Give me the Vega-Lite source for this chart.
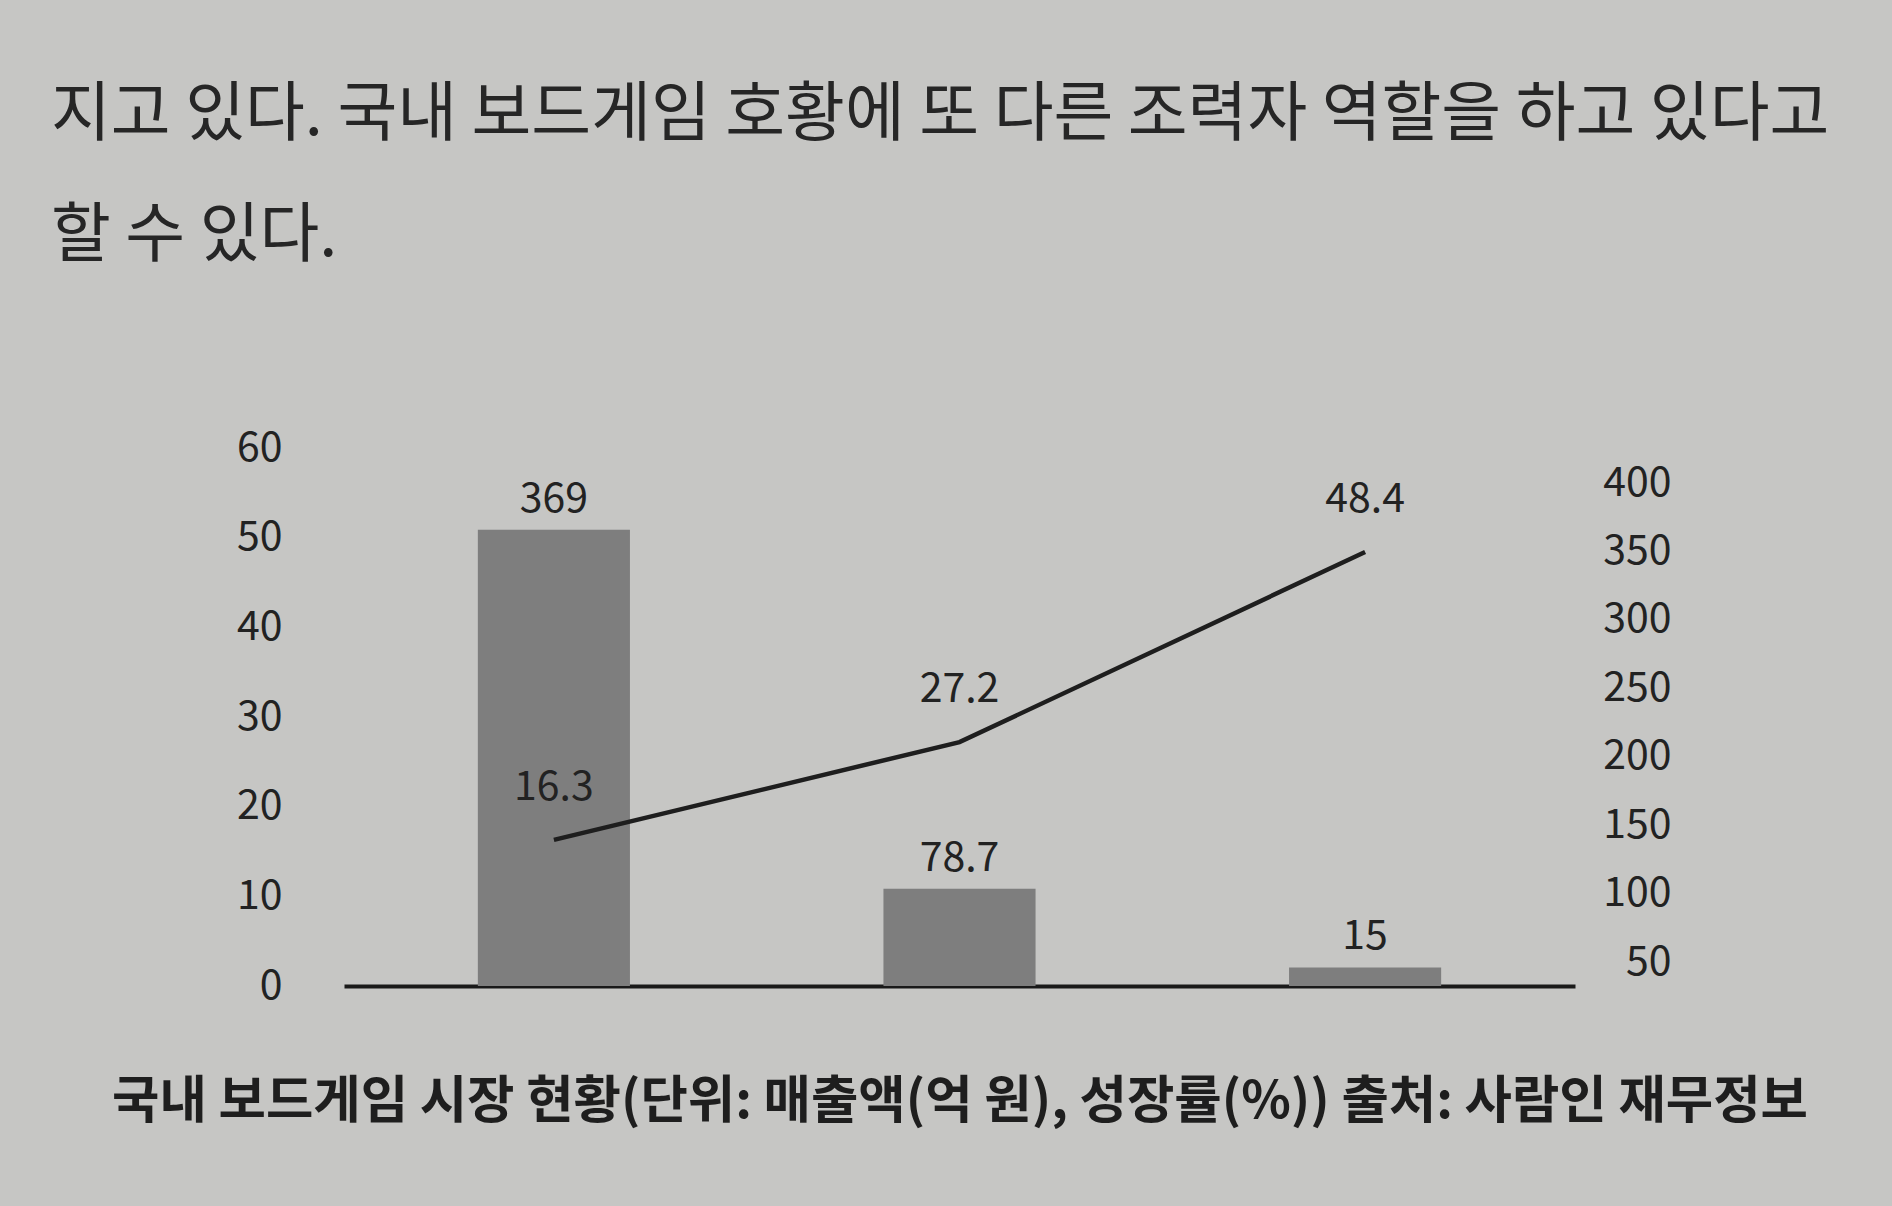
{
  "$schema": "https://vega.github.io/schema/vega-lite/v6.json",
  "width": 1231,
  "height": 538,
  "autosize": {"type": "none"},
  "padding": {"left": 344, "top": 448, "right": 317, "bottom": 220},
  "background": "#c6c6c4",
  "config": {
    "view": {"stroke": null},
    "font": "Noto Sans CJK KR",
    "axis": {"grid": false, "labelFont": "Noto Sans CJK KR", "titleFont": "Noto Sans CJK KR"}
  },
  "title": {
    "text": ["지고 있다. 국내 보드게임 호황에 또 다른 조력자 역할을 하고 있다고", "할 수 있다."],
    "anchor": "start",
    "frame": "group",
    "dx": -293,
    "offset": 106,
    "fontSize": 65,
    "fontWeight": "normal",
    "lineHeight": 121,
    "baseline": "alphabetic",
    "color": "#262626",
    "font": "Noto Sans CJK KR"
  },
  "data": {
    "values": [
      {"순서": "1", "매출액": 369, "성장률": 16.3},
      {"순서": "2", "매출액": 78.7, "성장률": 27.2},
      {"순서": "3", "매출액": 15, "성장률": 48.4}
    ]
  },
  "encoding": {
    "x": {
      "field": "순서",
      "type": "nominal",
      "scale": {"paddingInner": 0.625, "paddingOuter": 0.33},
      "axis": {
        "title": "국내 보드게임 시장 현황(단위: 매출액(억 원), 성장률(%)) 출처: 사람인 재무정보",
        "titleFontSize": 51.5,
        "titleFontWeight": "bold",
        "titleColor": "#1e1e1e",
        "titlePadding": 90,
        "labels": false,
        "ticks": false,
        "domain": true,
        "domainColor": "#1a1a1a",
        "domainWidth": 4
      }
    }
  },
  "layer": [
    {
      "encoding": {
        "y": {"field": "매출액", "type": "quantitative", "scale": {"domain": [0, 435]}, "axis": null}
      },
      "layer": [
        {"mark": {"type": "bar", "color": "#7e7e7e"}},
        {
          "mark": {"type": "text", "dy": -30, "baseline": "middle", "fontSize": 41, "color": "#222222", "font": "Noto Sans CJK KR"},
          "encoding": {"text": {"field": "매출액", "type": "quantitative"}}
        }
      ]
    },
    {
      "encoding": {
        "y": {
          "field": "성장률",
          "type": "quantitative",
          "scale": {"domain": [0, 60]},
          "axis": {
            "orient": "left",
            "title": null,
            "values": [0, 10, 20, 30, 40, 50, 60],
            "domain": false,
            "ticks": false,
            "tickSize": 0,
            "labelPadding": 62,
            "labelFontSize": 41,
            "labelColor": "#222222"
          }
        }
      },
      "layer": [
        {"mark": {"type": "line", "color": "#1e1e1e", "strokeWidth": 4.5}},
        {
          "mark": {"type": "text", "dy": -52, "baseline": "middle", "fontSize": 41, "color": "#222222", "font": "Noto Sans CJK KR"},
          "encoding": {"text": {"field": "성장률", "type": "quantitative"}}
        }
      ]
    },
    {
      "mark": {"type": "point", "opacity": 0},
      "encoding": {
        "y": {
          "field": "매출액",
          "type": "quantitative",
          "scale": {"domain": [32.5, 425.6], "nice": false, "zero": false},
          "axis": {
            "orient": "right",
            "title": null,
            "values": [50, 100, 150, 200, 250, 300, 350, 400],
            "domain": false,
            "ticks": false,
            "tickSize": 0,
            "labelAlign": "right",
            "labelPadding": 96,
            "labelFontSize": 41,
            "labelColor": "#222222"
          }
        }
      }
    }
  ],
  "resolve": {"scale": {"y": "independent"}, "axis": {"y": "independent"}}
}
